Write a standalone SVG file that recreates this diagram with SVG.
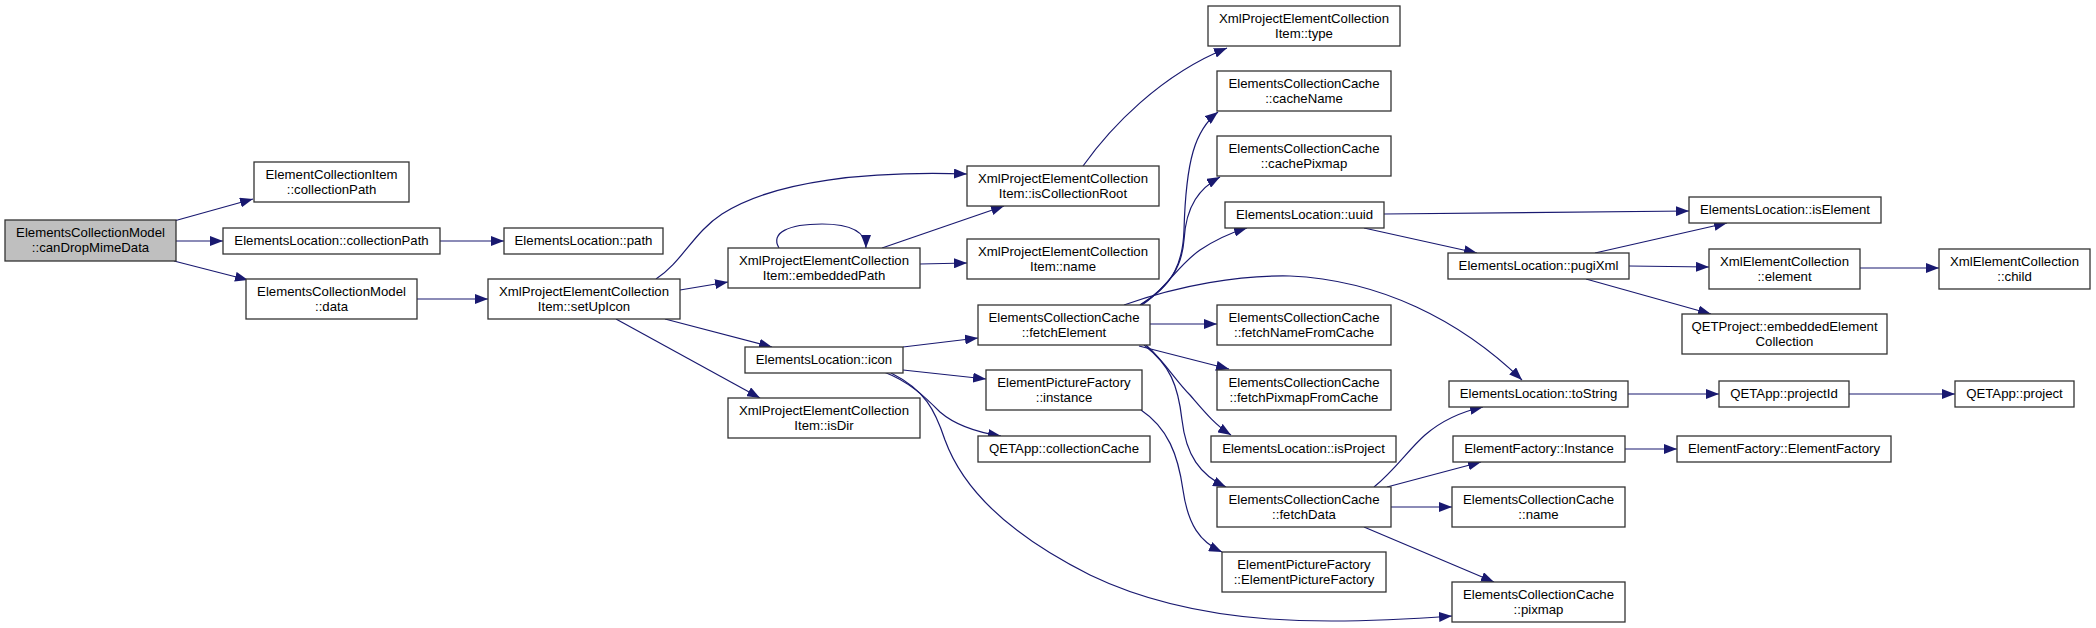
<svg xmlns="http://www.w3.org/2000/svg" width="2096" height="628" viewBox="0 0 2096 628">
<defs>
<style>
.n rect{fill:#ffffff;stroke:#333333;stroke-width:1.3}
.n.start rect{fill:#bfbfbf}
.n text{font-family:"Liberation Sans",Arial,sans-serif;font-size:13.2px;fill:#000000;text-anchor:middle}
#edges path{fill:none;stroke:#191970;stroke-width:1.2;marker-end:url(#arr)}
</style>
<marker id="arr" markerUnits="userSpaceOnUse" markerWidth="13" markerHeight="10" refX="13" refY="5" orient="auto">
<path d="M0,0 L13,5 L0,10 z" fill="#191970"/>
</marker>
</defs>
<rect x="0" y="0" width="2096" height="628" fill="#ffffff"/>
<g id="edges">
<path d="M174,221 L253,199"/>
<path d="M176,241 L223,241"/>
<path d="M174,261 L248,280"/>
<path d="M440,241 L504,241"/>
<path d="M417,299 L488,299"/>
<path d="M656,279 C682,262 694,232 722,214 C775,180 870,171 967,174"/>
<path d="M680,290 L728,282"/>
<path d="M665,319 L772,347"/>
<path d="M616,319 L760,398"/>
<path d="M779,248 C770,233 788,224 822,224 C852,224 866,232 866,248"/>
<path d="M882,248 L1004,206"/>
<path d="M920,264 L967,263"/>
<path d="M1083,166 C1110,128 1160,75 1227,48"/>
<path d="M1140,305 C1175,285 1183,260 1184,230 C1186,160 1195,130 1218,112"/>
<path d="M1140,305 C1172,285 1182,265 1184,240 C1186,205 1200,188 1220,177"/>
<path d="M1142,305 C1165,290 1178,265 1200,250 C1215,240 1230,233 1247,228"/>
<path d="M1124,305 C1180,285 1240,275 1290,276 C1380,280 1460,320 1522,380"/>
<path d="M1150,324 L1217,324"/>
<path d="M1139,346 L1229,369"/>
<path d="M1146,345 C1165,362 1175,380 1190,395 C1203,410 1215,425 1231,435"/>
<path d="M1144,345 C1170,365 1178,385 1182,420 C1186,455 1200,475 1226,487"/>
<path d="M903,347 L978,338"/>
<path d="M903,370 L986,379"/>
<path d="M884,372 C910,382 925,397 940,412 C955,425 975,432 1001,436"/>
<path d="M891,373 C925,390 935,410 945,440 C965,495 1020,540 1090,575 C1200,628 1330,625 1452,616"/>
<path d="M1141,410 C1168,428 1178,455 1183,490 C1188,525 1200,542 1222,552"/>
<path d="M1384,214 L1689,211"/>
<path d="M1364,228 L1477,253"/>
<path d="M1595,253 L1727,223"/>
<path d="M1629,266 L1709,267"/>
<path d="M1586,279 L1711,314"/>
<path d="M1860,268 L1939,268"/>
<path d="M1628,394 L1719,394"/>
<path d="M1849,394 L1955,394"/>
<path d="M1374,487 C1395,470 1408,450 1425,435 C1440,422 1460,412 1483,407"/>
<path d="M1387,487 L1481,462"/>
<path d="M1391,507 L1452,507"/>
<path d="M1364,527 L1494,582"/>
<path d="M1625,449 L1677,449"/>
</g>
<g id="n0" class="n start"><rect x="5" y="220" width="171" height="41"/><text x="90.5" y="237">ElementsCollectionModel</text><text x="90.5" y="251.5">::canDropMimeData</text></g>
<g id="n1" class="n"><rect x="254" y="162" width="155" height="40"/><text x="331.5" y="179">ElementCollectionItem</text><text x="331.5" y="193.5">::collectionPath</text></g>
<g id="n2" class="n"><rect x="223" y="228" width="217" height="26"/><text x="331.5" y="245">ElementsLocation::collectionPath</text></g>
<g id="n3" class="n"><rect x="504" y="228" width="159" height="26"/><text x="583.5" y="245">ElementsLocation::path</text></g>
<g id="n4" class="n"><rect x="246" y="279" width="171" height="40"/><text x="331.5" y="296">ElementsCollectionModel</text><text x="331.5" y="310.5">::data</text></g>
<g id="n5" class="n"><rect x="488" y="279" width="192" height="40"/><text x="584" y="296">XmlProjectElementCollection</text><text x="584" y="310.5">Item::setUpIcon</text></g>
<g id="n6" class="n"><rect x="967" y="166" width="192" height="40"/><text x="1063" y="183">XmlProjectElementCollection</text><text x="1063" y="197.5">Item::isCollectionRoot</text></g>
<g id="n7" class="n"><rect x="728" y="248" width="192" height="40"/><text x="824" y="265">XmlProjectElementCollection</text><text x="824" y="279.5">Item::embeddedPath</text></g>
<g id="n8" class="n"><rect x="967" y="239" width="192" height="40"/><text x="1063" y="256">XmlProjectElementCollection</text><text x="1063" y="270.5">Item::name</text></g>
<g id="n9" class="n"><rect x="745" y="347" width="158" height="26"/><text x="824" y="364">ElementsLocation::icon</text></g>
<g id="n10" class="n"><rect x="728" y="398" width="192" height="40"/><text x="824" y="415">XmlProjectElementCollection</text><text x="824" y="429.5">Item::isDir</text></g>
<g id="n11" class="n"><rect x="1208" y="6" width="192" height="40"/><text x="1304" y="23">XmlProjectElementCollection</text><text x="1304" y="37.5">Item::type</text></g>
<g id="n12" class="n"><rect x="1217" y="71" width="174" height="40"/><text x="1304" y="88">ElementsCollectionCache</text><text x="1304" y="102.5">::cacheName</text></g>
<g id="n13" class="n"><rect x="1217" y="136" width="174" height="40"/><text x="1304" y="153">ElementsCollectionCache</text><text x="1304" y="167.5">::cachePixmap</text></g>
<g id="n14" class="n"><rect x="1225" y="202" width="159" height="26"/><text x="1304.5" y="219">ElementsLocation::uuid</text></g>
<g id="n15" class="n"><rect x="978" y="305" width="172" height="40"/><text x="1064" y="322">ElementsCollectionCache</text><text x="1064" y="336.5">::fetchElement</text></g>
<g id="n16" class="n"><rect x="1217" y="305" width="174" height="40"/><text x="1304" y="322">ElementsCollectionCache</text><text x="1304" y="336.5">::fetchNameFromCache</text></g>
<g id="n17" class="n"><rect x="986" y="370" width="156" height="40"/><text x="1064" y="387">ElementPictureFactory</text><text x="1064" y="401.5">::instance</text></g>
<g id="n18" class="n"><rect x="1217" y="370" width="174" height="40"/><text x="1304" y="387">ElementsCollectionCache</text><text x="1304" y="401.5">::fetchPixmapFromCache</text></g>
<g id="n19" class="n"><rect x="978" y="436" width="172" height="26"/><text x="1064" y="453">QETApp::collectionCache</text></g>
<g id="n20" class="n"><rect x="1211" y="436" width="185" height="26"/><text x="1303.5" y="453">ElementsLocation::isProject</text></g>
<g id="n21" class="n"><rect x="1217" y="487" width="174" height="40"/><text x="1304" y="504">ElementsCollectionCache</text><text x="1304" y="518.5">::fetchData</text></g>
<g id="n22" class="n"><rect x="1222" y="552" width="164" height="40"/><text x="1304" y="569">ElementPictureFactory</text><text x="1304" y="583.5">::ElementPictureFactory</text></g>
<g id="n23" class="n"><rect x="1689" y="197" width="192" height="26"/><text x="1785" y="214">ElementsLocation::isElement</text></g>
<g id="n24" class="n"><rect x="1448" y="253" width="181" height="26"/><text x="1538.5" y="270">ElementsLocation::pugiXml</text></g>
<g id="n25" class="n"><rect x="1709" y="249" width="151" height="40"/><text x="1784.5" y="266">XmlElementCollection</text><text x="1784.5" y="280.5">::element</text></g>
<g id="n26" class="n"><rect x="1939" y="249" width="151" height="40"/><text x="2014.5" y="266">XmlElementCollection</text><text x="2014.5" y="280.5">::child</text></g>
<g id="n27" class="n"><rect x="1682" y="314" width="205" height="40"/><text x="1784.5" y="331">QETProject::embeddedElement</text><text x="1784.5" y="345.5">Collection</text></g>
<g id="n28" class="n"><rect x="1449" y="381" width="179" height="26"/><text x="1538.5" y="398">ElementsLocation::toString</text></g>
<g id="n29" class="n"><rect x="1719" y="381" width="130" height="26"/><text x="1784" y="398">QETApp::projectId</text></g>
<g id="n30" class="n"><rect x="1955" y="381" width="119" height="26"/><text x="2014.5" y="398">QETApp::project</text></g>
<g id="n31" class="n"><rect x="1453" y="436" width="172" height="26"/><text x="1539" y="453">ElementFactory::Instance</text></g>
<g id="n32" class="n"><rect x="1677" y="436" width="214" height="26"/><text x="1784" y="453">ElementFactory::ElementFactory</text></g>
<g id="n33" class="n"><rect x="1452" y="487" width="173" height="40"/><text x="1538.5" y="504">ElementsCollectionCache</text><text x="1538.5" y="518.5">::name</text></g>
<g id="n34" class="n"><rect x="1452" y="582" width="173" height="40"/><text x="1538.5" y="599">ElementsCollectionCache</text><text x="1538.5" y="613.5">::pixmap</text></g>
</svg>
